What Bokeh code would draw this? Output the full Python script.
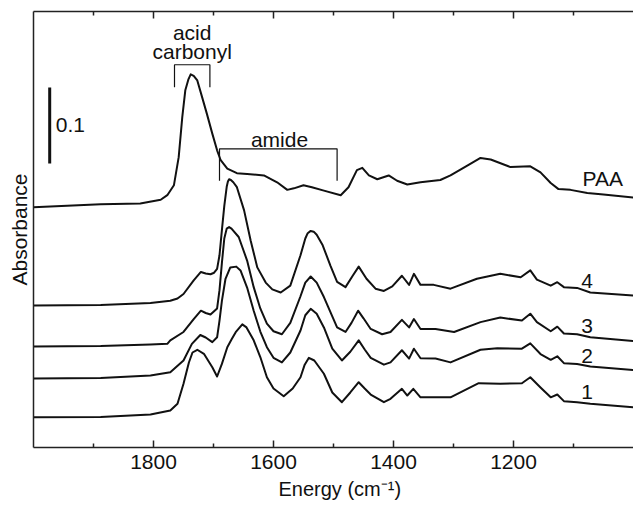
from bokeh.plotting import figure
from bokeh.models import Range1d, LinearAxis, FixedTicker, Label, ColumnDataSource, Title
from bokeh.core.properties import value
from bokeh.embed import file_html
from bokeh.resources import INLINE

FONT = "Liberation Sans"
INK = "#111111"

# ---- data (spectra vertically offset for clarity; absorbance units) ----
wn_paa = [2000, 1888, 1822, 1788, 1777, 1766, 1758, 1752, 1747, 1742, 1738, 1733, 1727, 1719,
          1711, 1702, 1694, 1688, 1677, 1661, 1644, 1616, 1594, 1577, 1566, 1550, 1536, 1516,
          1488, 1475, 1461, 1452, 1441, 1427, 1408, 1394, 1377, 1355, 1322, 1305, 1277, 1255,
          1238, 1205, 1172, 1155, 1138, 1125, 1105, 1077, 1050, 1000]
abs_paa = [0.316, 0.320, 0.321, 0.326, 0.332, 0.345, 0.382, 0.435, 0.470, 0.484, 0.491, 0.489,
           0.483, 0.461, 0.439, 0.413, 0.391, 0.378, 0.367, 0.361, 0.360, 0.358, 0.349, 0.339,
           0.341, 0.345, 0.3425, 0.338, 0.332, 0.3425, 0.365, 0.368, 0.358, 0.353, 0.358, 0.351,
           0.346, 0.349, 0.352, 0.358, 0.371, 0.381, 0.379, 0.369, 0.370, 0.362, 0.348, 0.340,
           0.339, 0.335, 0.333, 0.329]

wn_4 = [2000, 1888, 1805, 1772, 1760, 1750, 1733, 1721, 1713, 1705, 1699, 1694, 1690, 1686,
        1682, 1678, 1676, 1674, 1671, 1667, 1661, 1649, 1638, 1627, 1613, 1602, 1588, 1572,
        1555, 1547, 1543, 1538, 1533, 1528, 1518, 1505, 1494, 1480, 1468, 1458, 1445, 1430,
        1416, 1402, 1386, 1374, 1366, 1355, 1333, 1305, 1261, 1222, 1188, 1172, 1161, 1138,
        1127, 1116, 1094, 1072, 1000]
abs_4 = [0.187, 0.1875, 0.190, 0.193, 0.196, 0.202, 0.220, 0.231, 0.229, 0.228, 0.230, 0.235,
         0.253, 0.286, 0.318, 0.343, 0.350, 0.353, 0.352, 0.349, 0.3425, 0.312, 0.272, 0.237,
         0.217, 0.208, 0.204, 0.213, 0.253, 0.275, 0.282, 0.285, 0.284, 0.280, 0.266, 0.239,
         0.218, 0.211, 0.226, 0.238, 0.222, 0.209, 0.206, 0.212, 0.226, 0.214, 0.2285, 0.214,
         0.214, 0.209, 0.222, 0.2285, 0.224, 0.233, 0.221, 0.213, 0.2175, 0.211, 0.210, 0.204,
         0.200]

wn_3 = [2000, 1888, 1805, 1777, 1772, 1750, 1733, 1721, 1713, 1705, 1694, 1690, 1686, 1682,
        1678, 1674, 1670, 1658, 1644, 1633, 1622, 1611, 1600, 1586, 1572, 1555, 1547, 1538,
        1528, 1516, 1494, 1480, 1470, 1459, 1450, 1438, 1419, 1405, 1386, 1374, 1366, 1355,
        1330, 1299, 1255, 1222, 1186, 1172, 1161, 1138, 1127, 1116, 1094, 1072, 1000]
abs_3 = [0.133, 0.1336, 0.1355, 0.1364, 0.141, 0.152, 0.169, 0.180, 0.177, 0.175, 0.183, 0.207,
         0.243, 0.275, 0.288, 0.290, 0.288, 0.277, 0.246, 0.211, 0.183, 0.163, 0.153, 0.149,
         0.164, 0.199, 0.217, 0.225, 0.217, 0.198, 0.158, 0.152, 0.164, 0.180, 0.170, 0.156,
         0.149, 0.152, 0.168, 0.158, 0.169, 0.156, 0.156, 0.152, 0.165, 0.171, 0.167, 0.176,
         0.165, 0.153, 0.159, 0.150, 0.149, 0.145, 0.140]

wn_2 = [2000, 1888, 1805, 1772, 1750, 1736, 1722, 1713, 1702, 1694, 1690, 1686, 1680, 1672,
        1662, 1655, 1644, 1633, 1622, 1611, 1600, 1586, 1572, 1555, 1547, 1538, 1528, 1516,
        1502, 1486, 1472, 1458, 1448, 1438, 1416, 1405, 1386, 1374, 1366, 1355, 1330, 1305,
        1255, 1227, 1186, 1172, 1155, 1138, 1127, 1116, 1094, 1072, 1000]
abs_2 = [0.0908, 0.0914, 0.0947, 0.099, 0.1145, 0.1364, 0.148, 0.1447, 0.1386, 0.145, 0.167,
         0.193, 0.222, 0.237, 0.238, 0.233, 0.2105, 0.180, 0.1526, 0.132, 0.118, 0.112, 0.125,
         0.154, 0.174, 0.1825, 0.176, 0.158, 0.130, 0.1145, 0.126, 0.141, 0.129, 0.118, 0.109,
         0.112, 0.128, 0.117, 0.130, 0.1175, 0.117, 0.112, 0.1286, 0.1307, 0.130, 0.137, 0.123,
         0.1154, 0.120, 0.111, 0.110, 0.1066, 0.102]

wn_1 = [2000, 1888, 1805, 1772, 1760, 1750, 1741, 1735, 1727, 1716, 1702, 1694, 1686, 1677,
        1670, 1663, 1652, 1645, 1633, 1622, 1611, 1600, 1583, 1568, 1555, 1548, 1541, 1532,
        1516, 1502, 1486, 1472, 1458, 1448, 1438, 1416, 1405, 1386, 1377, 1367, 1355, 1327,
        1305, 1258, 1222, 1186, 1172, 1155, 1138, 1127, 1116, 1094, 1072, 1000]
abs_1 = [0.0399, 0.0401, 0.0434, 0.0487, 0.0575, 0.0838, 0.1118, 0.125, 0.1286, 0.1233, 0.1057,
         0.0934, 0.110, 0.132, 0.142, 0.1517, 0.162, 0.158, 0.141, 0.119, 0.0925, 0.0776,
         0.0675, 0.0776, 0.0925, 0.109, 0.118, 0.1145, 0.097, 0.0724, 0.0596, 0.0724, 0.0859,
         0.0776, 0.0697, 0.0596, 0.064, 0.0772, 0.0684, 0.0772, 0.066, 0.066, 0.066, 0.0846,
         0.0838, 0.0846, 0.0925, 0.079, 0.066, 0.0697, 0.061, 0.0596, 0.0575, 0.053]

spectrum_names = ["PAA", "4", "3", "2", "1"]
label_wn = [1085, 1087, 1087, 1087, 1087]
label_abs = [0.354, 0.2197, 0.1605, 0.121, 0.0724]

x_major = [1800, 1600, 1400, 1200]
x_minor = [1900, 1700, 1500, 1300, 1100]

# scale bar (0.1 absorbance)
bar_wn = 1973
bar_start = 0.3737
bar_len = 0.1

# band brackets
acid_wn = [1765, 1706]
amide_wn = [1690, 1494]
acid_top, acid_foot = 0.5036, 0.474
amide_top, amide_foot = 0.393, 0.351

# ---- figure ----
p = figure(width=633, height=506, x_range=Range1d(2000, 1000), y_range=Range1d(0, 0.5737),
           output_backend="svg", toolbar_location=None,
           min_border_left=33, min_border_right=0, min_border_top=11, min_border_bottom=59)
p.outline_line_color = None
p.xgrid.visible = False
p.ygrid.visible = False
p.background_fill_color = "white"

ticker = FixedTicker(ticks=x_major, minor_ticks=x_minor)

xa = p.xaxis[0]
xa.ticker = ticker
xa.axis_line_color = "#222222"
xa.axis_line_width = 1.5
xa.major_tick_in = 7
xa.major_tick_out = 0
xa.minor_tick_in = 4
xa.minor_tick_out = 0
xa.major_tick_line_color = "#222222"
xa.minor_tick_line_color = "#222222"
xa.major_tick_line_width = 1.5
xa.minor_tick_line_width = 1.5
xa.major_label_text_font = FONT
xa.major_label_text_font_size = "21px"
xa.major_label_text_color = INK
xa.major_label_standoff = 7

top = LinearAxis(ticker=ticker)
top.axis_line_color = "#222222"
top.axis_line_width = 1.5
top.major_tick_in = 7
top.major_tick_out = 0
top.minor_tick_in = 4
top.minor_tick_out = 0
top.major_tick_line_color = "#222222"
top.minor_tick_line_color = "#222222"
top.major_tick_line_width = 1.5
top.minor_tick_line_width = 1.5
top.major_label_text_color = None
top.major_label_standoff = 0
p.add_layout(top, "above")

ya = p.yaxis[0]
ya.ticker = FixedTicker(ticks=[])
ya.axis_line_color = "#222222"
ya.axis_line_width = 1.5
ya.major_tick_line_color = None
ya.minor_tick_line_color = None
ya.major_label_standoff = 0
ya.axis_label = "Absorbance"
ya.axis_label_text_font = FONT
ya.axis_label_text_font_size = "21px"
ya.axis_label_text_font_style = "normal"
ya.axis_label_text_color = INK
ya.axis_label_standoff = 3

# x axis title, shifted right as in the original
p.add_layout(Title(text="Energy (cm\u207b\u00b9)", align="left", offset=245,
                   text_font=FONT, text_font_size="20px", text_font_style="normal",
                   text_color=INK, standoff=9), "below")

# spectra
for wn, ab in [(wn_paa, abs_paa), (wn_4, abs_4), (wn_3, abs_3), (wn_2, abs_2), (wn_1, abs_1)]:
    p.line(wn, ab, line_color=INK, line_width=2, line_join="round")

# scale bar
p.segment(x0=[bar_wn], y0=[bar_start], x1=[bar_wn], y1=[bar_start + bar_len],
          line_color=INK, line_width=3)
p.add_layout(Label(x=bar_wn - 10, y=bar_start + bar_len / 2, text="0.1",
                   text_font=FONT, text_font_size="21px", text_color=INK,
                   text_baseline="middle", text_align="left"))

# brackets
p.line([acid_wn[0], acid_wn[0], acid_wn[1], acid_wn[1]],
       [acid_foot, acid_top, acid_top, acid_foot], line_color=INK, line_width=1.2)
p.line([amide_wn[0], amide_wn[0], amide_wn[1], amide_wn[1]],
       [amide_foot, amide_top, amide_top, amide_foot], line_color=INK, line_width=1.2)

for txt, yv in [("acid", 0.5465), ("carbonyl", 0.5213)]:
    p.add_layout(Label(x=sum(acid_wn) / 2, y=yv, text=txt, text_font=FONT,
                       text_font_size="21px", text_color=INK,
                       text_align="center", text_baseline="middle"))
p.add_layout(Label(x=1590, y=0.405, text="amide", text_font=FONT,
                   text_font_size="21px", text_color=INK,
                   text_align="center", text_baseline="middle"))

# spectrum labels
src = ColumnDataSource(dict(x=label_wn, y=label_abs, t=spectrum_names))
p.text(x="x", y="y", text="t", source=src, text_font=value(FONT), text_font_size="21px",
       text_color=INK, text_align="left", text_baseline="middle")

open("out.html", "w").write(file_html(p, INLINE))
